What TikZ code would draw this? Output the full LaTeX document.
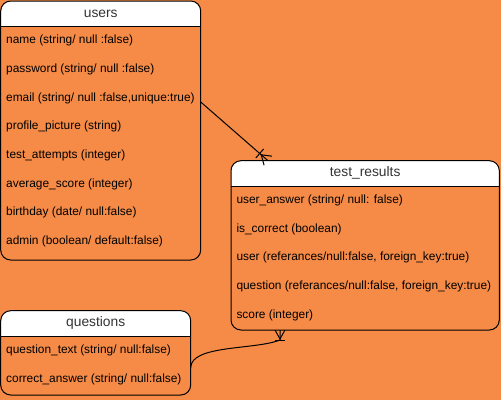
\documentclass[tikz,border=0pt]{standalone}
\usepackage{fontspec}
\setmainfont{Liberation Sans}
\usetikzlibrary{positioning, calc, backgrounds}
\definecolor{bgorange}{RGB}{245,139,71}
\definecolor{headtext}{RGB}{51,51,51}
\tikzstyle{entity} = [rectangle, draw=black, line width=1pt, rounded corners=10pt, anchor=north west, inner sep=0pt, outer sep=0pt]
\tikzstyle{head} = [rectangle, inner sep=0pt, outer sep=0pt, minimum height=25.3pt, text=headtext, font=\fontsize{13.8}{16}\selectfont]
\tikzstyle{field} = [rectangle, inner xsep=5.5pt, inner ysep=0pt, outer sep=0pt, minimum height=28.67pt, text=black, font=\fontsize{11.9}{14}\selectfont]
\tikzstyle{rel} = [line width=1pt, draw=black]

\begin{document}
\begin{tikzpicture}[x=1pt, y=-1pt, node distance=0pt]
\useasboundingbox (0,0) rectangle (501,400);
% users
\node (users) [entity, minimum width=200pt, minimum height=259pt] at (0.7,1) {};
\node (usersH) [head, minimum width=200pt, below=of users.north] {users};
\node (name) [field, below right=of usersH.south west] {name (string/ null :false)};
\node (password) [field, below right=of name.south west] {password (string/ null :false)};
\node (email) [field, below right=of password.south west] {email (string/ null :false,unique:true)};
\node (picture) [field, below right=of email.south west] {profile\_picture (string)};
\node (attempts) [field, below right=of picture.south west] {test\_attempts (integer)};
\node (avgscore) [field, below right=of attempts.south west] {average\_score (integer)};
\node (birthday) [field, below right=of avgscore.south west] {birthday (date/ null:false)};
\node (admin) [field, below right=of birthday.south west] {admin (boolean/ default:false)};
\draw [rel] (usersH.south west) -- (usersH.south east);
% test_results
\node (results) [entity, minimum width=268.3pt, minimum height=169.3pt] at (231,160.7) {};
\node (resultsH) [head, minimum width=268.3pt, below=of results.north] {test\_results};
\node (answer) [field, below right=of resultsH.south west] {user\_answer (string/ null: false)};
\node (correct) [field, below right=of answer.south west] {is\_correct (boolean)};
\node (user) [field, below right=of correct.south west] {user (referances/null:false, foreign\_key:true)};
\node (question) [field, below right=of user.south west] {question (referances/null:false, foreign\_key:true)};
\node (score) [field, below right=of question.south west] {score (integer)};
\draw [rel] (resultsH.south west) -- (resultsH.south east);
% questions
\node (questions) [entity, minimum width=190pt, minimum height=84.3pt] at (0.7,310.7) {};
\node (questionsH) [head, minimum width=190pt, below=of questions.north] {questions};
\node (qtext) [field, below right=of questionsH.south west] {question\_text (string/ null:false)};
\node (qanswer) [field, below right=of qtext.south west] {correct\_answer (string/ null:false)};
\draw [rel] (questionsH.south west) -- (questionsH.south east);
% header fills
\begin{scope}[on background layer]
\fill [bgorange] (0,0) rectangle (501,400);
\begin{scope}
\clip [rounded corners=10pt] (users.north west) rectangle (users.south east);
\fill [white] (users.north west) rectangle (usersH.south east);
\end{scope}
\begin{scope}
\clip [rounded corners=10pt] (results.north west) rectangle (results.south east);
\fill [white] (results.north west) rectangle (resultsH.south east);
\end{scope}
\begin{scope}
\clip [rounded corners=10pt] (questions.north west) rectangle (questions.south east);
\fill [white] (questions.north west) rectangle (questionsH.south east);
\end{scope}
\end{scope}
% users -> test_results
\coordinate (emailR) at ($(email.east -| users.east)+(0,4)$);
\coordinate (trtop) at (268,160.7);
\draw [rel] (emailR) -- (trtop);
\draw [rel] ($(trtop)!6pt!90:(emailR)$) -- ($(trtop)!9pt!(emailR)$) -- ($(trtop)!6pt!-90:(emailR)$);
\draw [rel] ($(trtop)!11pt!(emailR)!6pt!90:(trtop)$) -- ($(trtop)!11pt!(emailR)!6pt!-90:(trtop)$);
% questions -> test_results
\coordinate (trbot) at (280,330);
\draw [rel] ($(qtext.south west -| questions.east)+(0,3)$) .. controls +(0.3,-23) and +(-25,10) .. ($(trbot)+(0,10)$) -- (trbot);
\draw [rel] ([xshift=-5pt]trbot) -- ([yshift=-9pt]trbot) -- ([xshift=5pt]trbot);
\draw [rel] ([shift={(-5pt,-10pt)}]trbot) -- ([shift={(5pt,-10pt)}]trbot);
\end{tikzpicture}
\end{document}
